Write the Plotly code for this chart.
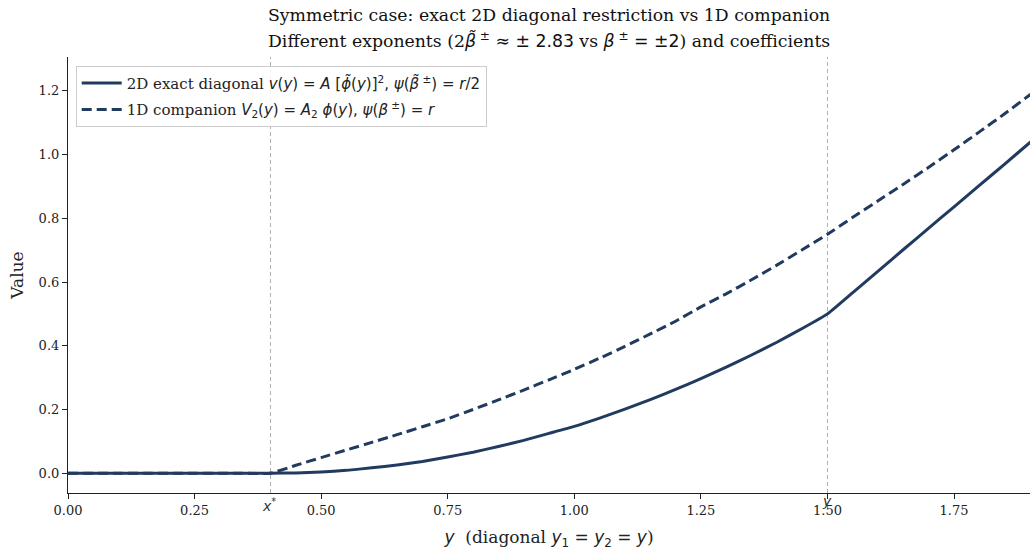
import plotly.graph_objects as go

# ---- data ----
y_grid = [0.00, 0.05, 0.10, 0.15, 0.20, 0.25, 0.30, 0.35, 0.40, 0.45, 0.50, 0.55, 0.60, 0.65,
          0.70, 0.75, 0.80, 0.85, 0.90, 0.95, 1.00, 1.05, 1.10, 1.15, 1.20, 1.25, 1.30,
          1.35, 1.40, 1.45, 1.50, 1.55, 1.60, 1.65, 1.70, 1.75, 1.80, 1.85, 1.90, 1.95]

v_2d_exact = [0.0, 0.0, 0.0, 0.0, 0.0, 0.0, 0.0, 0.0, 0.0, 0.001, 0.004, 0.009, 0.017, 0.026,
              0.037, 0.051, 0.066, 0.084, 0.103, 0.125, 0.147, 0.173, 0.201, 0.231, 0.263,
              0.297, 0.333, 0.371, 0.411, 0.454, 0.500, 0.567, 0.634, 0.702, 0.769, 0.836,
              0.903, 0.970, 1.038, 1.105]

V2_companion = [0.0, 0.0, 0.0, 0.0, 0.0, 0.0, 0.0, 0.0, 0.0, 0.025, 0.049, 0.073, 0.097, 0.121,
                0.146, 0.171, 0.200, 0.230, 0.261, 0.293, 0.326, 0.361, 0.398, 0.437, 0.477,
                0.522, 0.563, 0.607, 0.653, 0.701, 0.750, 0.803, 0.855, 0.907, 0.960, 1.015,
                1.071, 1.128, 1.1875, 1.245]

x_star = 0.4
y_bar = 1.5
x_ticks = [0.00, 0.25, 0.50, 0.75, 1.00, 1.25, 1.50, 1.75]
y_ticks = [0.0, 0.2, 0.4, 0.6, 0.8, 1.0, 1.2]

NAVY = "#213a5f"
SERIF = "DejaVu Serif"
SANS = "DejaVu Sans"

def m(s):
    return f'<span style="font-family:{SANS}">{s}</span>'

name_2d = ("2D exact diagonal " +
           m("<i>v</i>(<i>y</i>) = <i>A</i> [<i>ϕ̃</i>(<i>y</i>)]<sup>2</sup>, <i>ψ</i>(<i>β̃</i><sup> ±</sup>) = <i>r</i>/2"))
name_1d = ("1D companion " +
           m("<i>V</i><sub>2</sub>(<i>y</i>) = <i>A</i><sub>2</sub> <i>ϕ</i>(<i>y</i>), <i>ψ</i>(<i>β</i><sup> ±</sup>) = <i>r</i>"))

fig = go.Figure()
fig.add_trace(go.Scatter(x=y_grid, y=v_2d_exact, mode="lines", name=name_2d, legendgroup="a",
                         line=dict(color=NAVY, width=3, shape="spline", smoothing=0.4)))
fig.add_trace(go.Scatter(x=y_grid, y=V2_companion, mode="lines", name=name_1d, legendgroup="b",
                         line=dict(color=NAVY, width=3, dash="10px,5px", shape="spline", smoothing=0.4)))

for xv in (x_star, y_bar):
    fig.add_shape(type="line", x0=xv, x1=xv, xref="x", yref="paper", y0=0, y1=1,
                  line=dict(color="#b0b0b0", width=1, dash="4px,3px"), layer="below")

fig.add_annotation(x=x_star, y=0, xref="x", yref="paper", yanchor="middle", yshift=-12, xshift=-2,
                   showarrow=False, text="<i>x</i><sup>*</sup>",
                   font=dict(family=SANS, size=14, color="#333"))
fig.add_annotation(x=y_bar, y=0, xref="x", yref="paper", yanchor="middle", yshift=-8,
                   showarrow=False, text="<i>y</i>", font=dict(family=SANS, size=14, color="#333"))

# Title lines as annotations (centered over the plot area)
fig.add_annotation(x=0.5, y=1, xref="paper", yref="paper", yanchor="middle", yshift=42, showarrow=False,
                   text="Symmetric case: exact 2D diagonal restriction vs 1D companion",
                   font=dict(family=SERIF, size=17.3, color="#111"))
fig.add_annotation(x=0.5, y=1, xref="paper", yref="paper", yanchor="middle", yshift=17, showarrow=False,
                   text=("Different exponents (2" + m("<i>β̃</i><sup> ±</sup>") + " ≈ " + m("± 2.83") +
                         " vs " + m("<i>β</i><sup> ±</sup> = ±2") + ") and coefficients"),
                   font=dict(family=SERIF, size=17.3, color="#111"))

fig.update_layout(
    width=1032, height=552,
    margin=dict(l=68, r=2, t=57, b=59, autoexpand=False),
    paper_bgcolor="white", plot_bgcolor="white",
    font=dict(family=SERIF, size=13, color="#222"),
    xaxis=dict(range=[0, 1.9], tickvals=x_ticks, tickformat=".2f", automargin=False,
               showgrid=False, zeroline=False, showline=True, linecolor="#222", linewidth=1.2,
               ticks="outside", ticklen=5, tickcolor="#222",
               title=dict(text=m("<i>y</i>") + "  (diagonal " + m("<i>y</i><sub>1</sub> = <i>y</i><sub>2</sub> = <i>y</i>") + ")",
                          font=dict(family=SERIF, size=17), standoff=14)),
    yaxis=dict(range=[-0.062, 1.306], tickvals=y_ticks, tickformat=".1f", automargin=False,
               showgrid=False, zeroline=False, showline=True, linecolor="#222", linewidth=1.2,
               ticks="outside", ticklen=5, tickcolor="#222",
               title=dict(text="Value", font=dict(family=SERIF, size=17), standoff=10)),
    legend=dict(x=0.008, y=0.98, xanchor="left", yanchor="top",
                bgcolor="rgba(255,255,255,0.85)", bordercolor="#cccccc", borderwidth=1,
                font=dict(family=SERIF, size=15, color="#222"), tracegroupgap=4,
                traceorder="grouped", itemwidth=40),
    showlegend=True,
)

fig.write_html("out.html", config={"displayModeBar": False},
               post_script="document.body.style.margin='0';document.body.style.overflow='hidden';")
